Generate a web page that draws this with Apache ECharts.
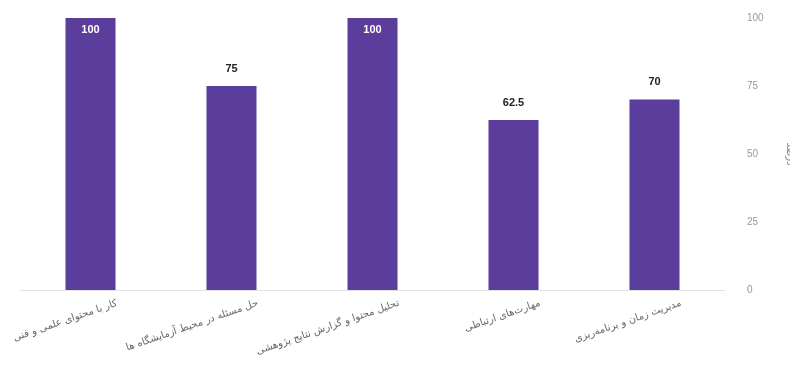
<!DOCTYPE html>
<html><head><meta charset="utf-8">
<script src="https://cdn.jsdelivr.net/npm/echarts@6/dist/echarts.min.js"></script>
<style>html,body{margin:0;padding:0;background:#fff}#c{width:790px;height:372px}</style>
</head><body><div id="c"></div>
<script>
const categories = [
  "کار با محتوای علمی و فنی",
  "حل مسئله در محیط آزمایشگاه ها",
  "تحلیل محتوا و گزارش نتایج پژوهشی",
  "مهارت‌های ارتباطی",
  "مدیریت زمان و برنامه‌ریزی"
];
const values = [100, 75, 100, 62.5, 70];
const yTicks = [0, 25, 50, 75, 100];
const yName = "درصد";

const chart = echarts.init(document.getElementById('c'));
chart.setOption({
  animation: false,
  backgroundColor: '#fff',
  grid: {left: 20, right: 65, top: 18, bottom: 82, containLabel: false, outerBoundsMode: 'none'},
  xAxis: {
    type: 'category',
    data: categories,
    axisLine: {lineStyle: {color: '#e4e4e4'}},
    axisTick: {show: false},
    axisLabel: {rotate: 19, color: '#666', fontSize: 10, fontFamily: 'DejaVu Sans', margin: 22, interval: 0,
      padding: [0, -28, 0, 0]}
  },
  yAxis: {
    type: 'value',
    position: 'right',
    min: 0, max: 100, interval: 25,
    name: yName,
    nameLocation: 'middle',
    nameGap: 60,
    nameRotate: -90,
    nameTextStyle: {color: '#888', fontSize: 10, fontFamily: 'DejaVu Sans'},
    splitLine: {show: false},
    axisLine: {show: false},
    axisTick: {show: false},
    axisLabel: {color: '#999', fontSize: 10, margin: 22,
      formatter: v => yTicks.includes(v) ? String(v) : ''}
  },
  series: [{
    type: 'bar',
    data: values.map(v => ({
      value: v,
      label: v >= 100
        ? {show: true, position: 'insideTop', color: '#fff', fontWeight: 'bold', fontSize: 11, distance: 6}
        : {show: true, position: 'top', color: '#222', fontWeight: 'bold', fontSize: 11, distance: 12}
    })),
    barWidth: 50,
    itemStyle: {color: '#5b3d9c'}
  }]
});
</script></body></html>
